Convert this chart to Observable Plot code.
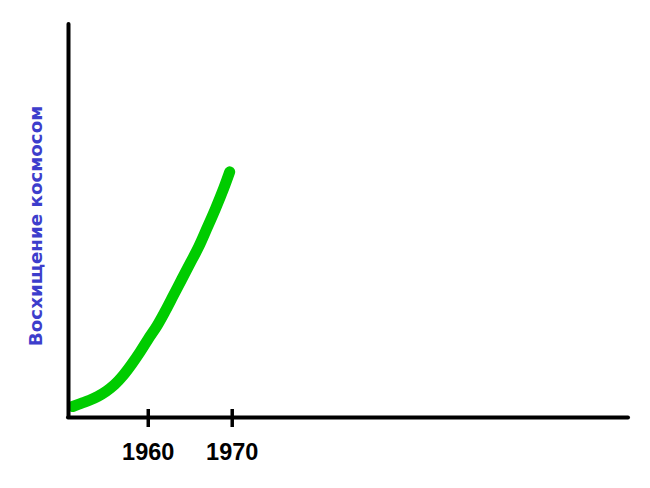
<!DOCTYPE html>
<html>
<head>
<meta charset="utf-8">
<script src="https://cdn.jsdelivr.net/npm/d3@7"></script>
<script src="https://cdn.jsdelivr.net/npm/@observablehq/plot@0.6"></script>
<style>
  html, body { margin: 0; padding: 0; background: #ffffff; }
</style>
</head>
<body>
<div id="chart"></div>
<script>
const years = [1951, 1952, 1953, 1954, 1955, 1956, 1957, 1958, 1959, 1960, 1961, 1962, 1963, 1964, 1965, 1966, 1967, 1968, 1969, 1969.7];
const admiration = [2.8, 3.6, 4.4, 5.4, 6.7, 8.4, 10.7, 13.5, 16.6, 20.0, 23.2, 27.0, 31.1, 35.2, 39.3, 43.4, 48.2, 53.1, 58.4, 62.5];
const tickYears = [1960, 1970];
const xDomain = [1950.5, 2017.2];
const yDomain = [0, 100];
const yLabel = "Восхищение космосом";

const data = years.map((year, i) => ({ year, value: admiration[i] }));

const chart = Plot.plot({
  width: 650,
  height: 488,
  marginLeft: 68,
  marginRight: 22,
  marginTop: 24,
  marginBottom: 71,
  style: { fontFamily: "'Liberation Sans', Arial, sans-serif", background: "#ffffff" },
  x: { domain: xDomain },
  y: { domain: yDomain },
  marks: [
    Plot.axisY({ ticks: [], tickSize: 0, label: yLabel, labelAnchor: "center", labelOffset: 40, labelArrow: "none" }),
    Plot.axisX(tickYears, { tickSize: 0, tickPadding: 26, tickFormat: "d", fontSize: 23.5, fontWeight: "bold", fill: "#000", label: null }),
    Plot.line(data, { x: "year", y: "value", stroke: "#00cc00", strokeWidth: 11, curve: "catmull-rom", strokeLinecap: "round", strokeLinejoin: "round" }),
    Plot.ruleY([yDomain[0]], { stroke: "#000", strokeWidth: 4, strokeLinecap: "round" }),
    Plot.ruleX([xDomain[0]], { stroke: "#000", strokeWidth: 4, strokeLinecap: "round" }),
    Plot.tickX(tickYears, { x: d => d, stroke: "#000", strokeWidth: 3.5, insetTop: 385, insetBottom: -10 })
  ]
});

d3.select(chart).selectAll("g[aria-label='y-axis label'] text")
  .attr("fill", "#3d3dcc")
  .attr("font-family", "'DejaVu Sans', sans-serif")
  .attr("font-size", 18.3)
  .attr("font-weight", "bold")
  .attr("dx", -5);

document.getElementById("chart").appendChild(chart);
</script>
</body>
</html>
